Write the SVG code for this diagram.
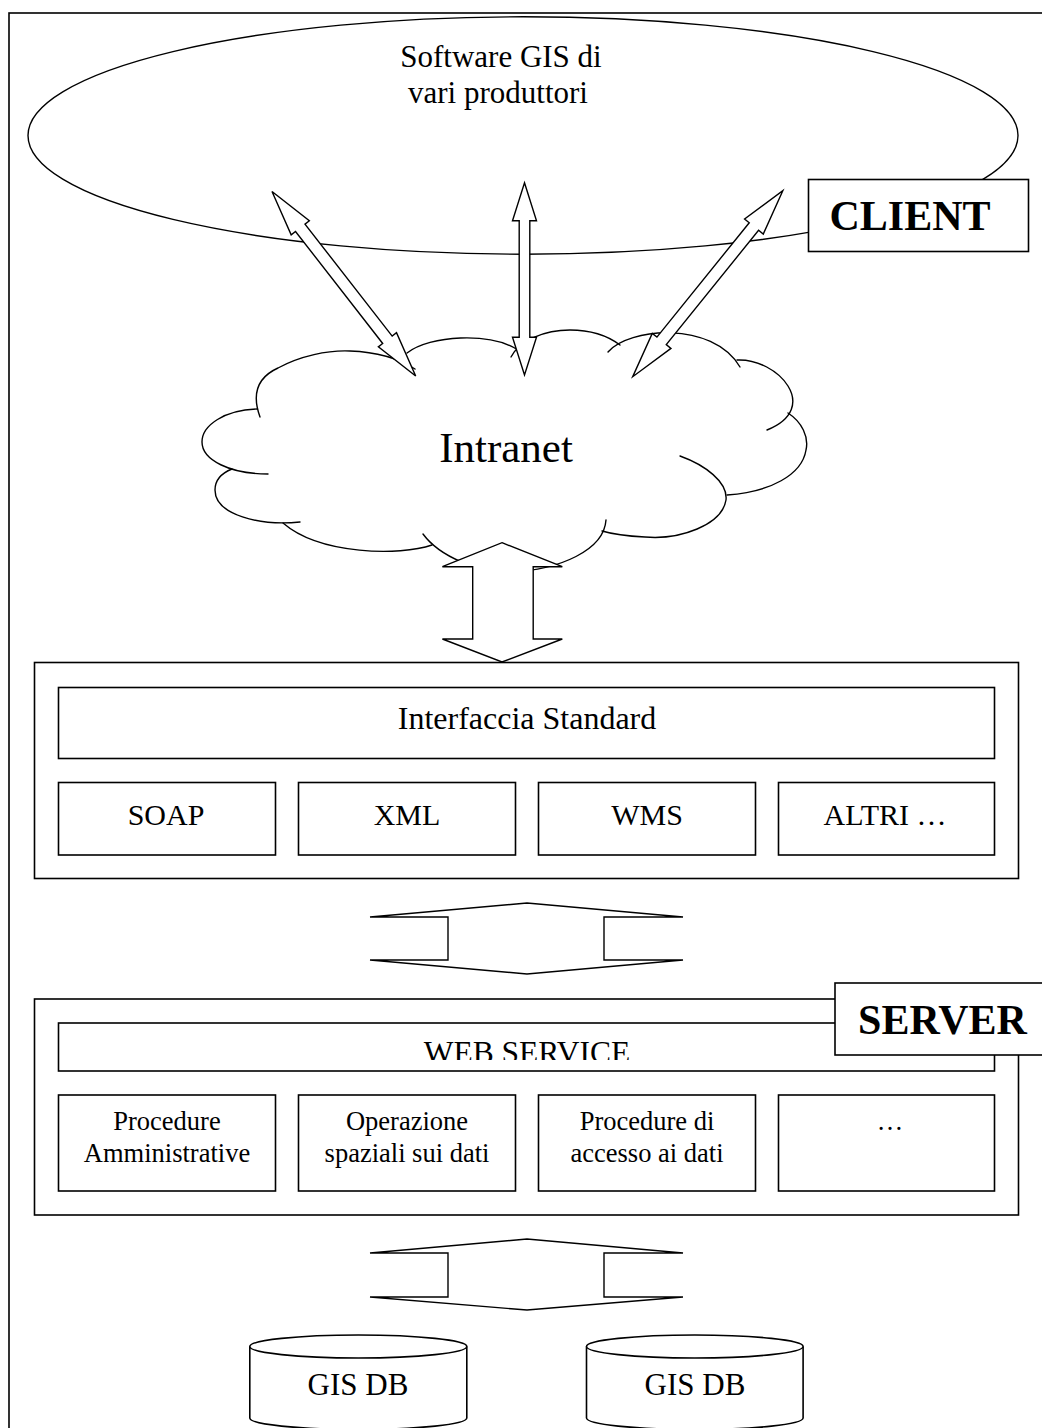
<svg xmlns="http://www.w3.org/2000/svg" width="1042" height="1428" viewBox="0 0 1042 1428">
  <defs>
    <style>
      .ln { fill: none; stroke: #000; stroke-width: 1.4; stroke-linecap: round; }
      .bx { fill: #fff; stroke: #000; stroke-width: 1.6; }
      .ar { fill: #fff; stroke: #000; stroke-width: 1.4; stroke-linejoin: miter; }
      .t  { font-family: "Liberation Serif", "Times New Roman", serif; fill: #000; text-anchor: middle; }
      .b  { font-weight: bold; }
    </style>
    <!-- the web service caption is cut off at the bottom of its text area -->
    <clipPath id="wsClip">
      <rect x="58" y="1023" width="937" height="37"/>
    </clipPath>
  </defs>

  <rect width="1042" height="1428" fill="#fff"/>

  <!-- page frame -->
  <rect id="frame" x="9" y="13" width="1100" height="1500" fill="none" stroke="#000" stroke-width="1.6"/>

  <!-- client side: GIS software ellipse -->
  <g id="client">
    <ellipse cx="523" cy="135.5" rx="495" ry="118.7" class="ln"/>
    <text class="t" x="501" y="67" font-size="31">Software GIS di</text>
    <text class="t" x="498" y="103" font-size="31">vari produttori</text>
  </g>

  <g id="client-label">
    <rect x="808.5" y="179.5" width="220" height="72" class="bx"/>
    <text class="t b" x="910" y="230" font-size="42">CLIENT</text>
  </g>

  <!-- intranet cloud -->
  <g id="intranet">
    <path class="ln" d="M260,417 C252,395 256,378 278,368 C300,356 328,350 350,351 C376,352 398,358 415,369"/>
    <path class="ln" d="M407,353 C430,335 490,332 518,350"/>
    <path class="ln" d="M511,357 C520,340 545,330 570,330 C593,330 608,336 620,345"/>
    <path class="ln" d="M608,352 C628,328 712,320 740,367"/>
    <path class="ln" d="M737,360 C778,358 822,408 767,430"/>
    <path class="ln" d="M788,413 C802,422 809,437 806,450 C802,475 770,492 727,495"/>
    <path class="ln" d="M680,456 C705,465 728,482 726,500 C722,525 680,540 645,537 C625,536 612,534 602,531"/>
    <path class="ln" d="M606,520 C604,550 560,570 510,572 C478,572 440,557 423,534"/>
    <path class="ln" d="M432,545 C400,556 320,555 283,523"/>
    <path class="ln" d="M300,522 C260,526 215,515 215,490 C215,480 222,473 232,469"/>
    <path class="ln" d="M268,474 C230,474 202,460 202,442 C202,425 225,410 257,409"/>
    <text class="t" x="506" y="462" font-size="43">Intranet</text>
  </g>

  <!-- connectors -->
  <g id="connectors">
    <!-- client <-> intranet: thin double-headed arrows, drawn along +y from the tip -->
    <polygon class="ar" transform="translate(272,191.5) rotate(-37.9)"
      points="0,0 11.5,46 6,46 6,187.9 11.5,187.9 0,233.9 -11.5,187.9 -6,187.9 -6,46 -11.5,46"/>
    <polygon class="ar"
      points="524.5,182.7 536.5,220.7 529.8,220.7 529.8,337.3 536.5,337.3 524.5,375 512.5,337.3 519.2,337.3 519.2,220.7 512.5,220.7"/>
    <polygon class="ar" transform="translate(782.8,190.7) rotate(38.9)"
      points="0,0 12,46 6,46 6,193 12,193 0,239 -12,193 -6,193 -6,46 -12,46"/>

    <!-- intranet <-> standard interface -->
    <polygon class="ar"
      points="502,542.7 562.3,566.7 533.2,566.7 533.2,639 562.3,639 502,662 442.4,639 472.7,639 472.7,566.7 442.4,566.7"/>

    <!-- standard interface <-> server -->
    <polygon class="ar"
      points="370,917 527,903 683,917 604,917 604,960 683,960 527,974 370,960 448,960 448,917"/>

    <!-- server <-> databases -->
    <polygon class="ar"
      points="370,1253 527,1239 683,1253 604,1253 604,1297 683,1297 527,1310 370,1297 448,1297 448,1253"/>
  </g>

  <!-- standard interface layer -->
  <g id="interface">
    <rect x="34.5" y="662.5" width="984" height="216" class="bx"/>
    <rect x="58.5" y="687.5" width="936" height="71" class="bx"/>
    <text class="t" x="527" y="728.5" font-size="32">Interfaccia Standard</text>
  </g>
  <g id="soap">
    <rect x="58.5" y="782.5" width="217" height="72.5" class="bx"/>
    <text class="t" x="166" y="824.5" font-size="30">SOAP</text>
  </g>
  <g id="xml">
    <rect x="298.5" y="782.5" width="217" height="72.5" class="bx"/>
    <text class="t" x="407" y="824.5" font-size="30">XML</text>
  </g>
  <g id="wms">
    <rect x="538.5" y="782.5" width="217" height="72.5" class="bx"/>
    <text class="t" x="647" y="824.5" font-size="30">WMS</text>
  </g>
  <g id="altri">
    <rect x="778.5" y="782.5" width="216" height="72.5" class="bx"/>
    <text class="t" x="885" y="824.5" font-size="30">ALTRI …</text>
  </g>

  <!-- server layer -->
  <g id="server">
    <rect x="34.5" y="999" width="984" height="216" class="bx"/>
    <rect x="58.5" y="1023" width="936" height="48" class="bx"/>
    <text class="t" x="527" y="1063" font-size="31.5" clip-path="url(#wsClip)">WEB SERVICE</text>
  </g>
  <g id="proc-admin">
    <rect x="58.5" y="1095" width="217" height="96" class="bx"/>
    <text class="t" x="167" y="1130" font-size="26.5">Procedure</text>
    <text class="t" x="167" y="1161.5" font-size="26.5">Amministrative</text>
  </g>
  <g id="proc-spatial">
    <rect x="298.5" y="1095" width="217" height="96" class="bx"/>
    <text class="t" x="407" y="1130" font-size="26.5">Operazione</text>
    <text class="t" x="407" y="1161.5" font-size="26.5">spaziali sui dati</text>
  </g>
  <g id="proc-access">
    <rect x="538.5" y="1095" width="217" height="96" class="bx"/>
    <text class="t" x="647" y="1130" font-size="26.5">Procedure di</text>
    <text class="t" x="647" y="1161.5" font-size="26.5">accesso ai dati</text>
  </g>
  <g id="proc-more">
    <rect x="778.5" y="1095" width="216" height="96" class="bx"/>
    <text class="t" x="890" y="1130" font-size="26.5">…</text>
  </g>

  <g id="server-label">
    <rect x="835" y="983" width="260" height="72" class="bx"/>
    <text class="t b" x="942.5" y="1033.5" font-size="42">SERVER</text>
  </g>

  <!-- databases -->
  <g id="db1">
    <path class="bx" d="M249.8,1346.5 L249.8,1418 A108.5,11.5 0 0 0 466.8,1418 L466.8,1346.5"/>
    <ellipse cx="358.3" cy="1346.5" rx="108.5" ry="11.5" class="bx"/>
    <text class="t" x="358" y="1395" font-size="31">GIS DB</text>
  </g>
  <g id="db2">
    <path class="bx" d="M586.5,1346.5 L586.5,1418 A108.3,11.5 0 0 0 803.1,1418 L803.1,1346.5"/>
    <ellipse cx="694.8" cy="1346.5" rx="108.3" ry="11.5" class="bx"/>
    <text class="t" x="695" y="1395" font-size="31">GIS DB</text>
  </g>
</svg>
